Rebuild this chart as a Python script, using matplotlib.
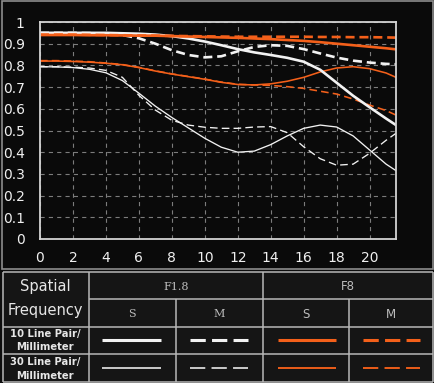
import matplotlib
matplotlib.use("Agg")
import matplotlib.pyplot as plt
from matplotlib.patches import Rectangle

plt.rcParams['lines.scale_dashes'] = False
plt.rcParams['font.family'] = ['DejaVu Sans']

# spatial position (mm) where the MTF values were read
freq_x = [0, 1, 2, 3, 4, 5, 6, 7, 8, 9, 10, 11, 12, 13, 14, 15, 16, 17, 18, 19, 20, 21, 21.6]

# F1.8, 10 lp/mm
f18_s10 = [0.95, 0.95, 0.95, 0.95, 0.95, 0.948, 0.946, 0.942, 0.935, 0.924, 0.91, 0.893,
           0.875, 0.86, 0.848, 0.835, 0.817, 0.78, 0.72, 0.66, 0.607, 0.555, 0.525]
f18_m10 = [0.95, 0.95, 0.95, 0.949, 0.946, 0.94, 0.925, 0.9, 0.87, 0.848, 0.837, 0.842,
           0.865, 0.885, 0.893, 0.89, 0.875, 0.855, 0.836, 0.822, 0.813, 0.807, 0.805]
# F1.8, 30 lp/mm
f18_s30 = [0.794, 0.793, 0.79, 0.782, 0.766, 0.73, 0.672, 0.612, 0.56, 0.512, 0.464, 0.423,
           0.40, 0.405, 0.435, 0.475, 0.51, 0.525, 0.516, 0.475, 0.41, 0.345, 0.315]
f18_m30 = [0.794, 0.794, 0.792, 0.788, 0.777, 0.745, 0.662, 0.594, 0.547, 0.525, 0.515, 0.51,
           0.51, 0.516, 0.518, 0.49, 0.425, 0.37, 0.34, 0.345, 0.395, 0.455, 0.487]
# F8, 10 lp/mm
f8_s10 = [0.94, 0.94, 0.94, 0.939, 0.939, 0.938, 0.937, 0.937, 0.935, 0.933, 0.931, 0.929,
          0.927, 0.924, 0.921, 0.917, 0.913, 0.907, 0.9, 0.893, 0.886, 0.879, 0.874]
f8_m10 = [0.942, 0.942, 0.942, 0.941, 0.94, 0.939, 0.938, 0.937, 0.936, 0.935, 0.934, 0.933,
          0.932, 0.932, 0.932, 0.932, 0.932, 0.931, 0.931, 0.93, 0.93, 0.929, 0.928]
# F8, 30 lp/mm
f8_s30 = [0.82, 0.82, 0.818, 0.815, 0.81, 0.803, 0.79, 0.774, 0.76, 0.748, 0.736, 0.722,
          0.712, 0.71, 0.715, 0.727, 0.745, 0.77, 0.788, 0.794, 0.785, 0.765, 0.745]
f8_m30 = [0.822, 0.822, 0.82, 0.817, 0.811, 0.804, 0.791, 0.775, 0.761, 0.749, 0.737, 0.723,
          0.713, 0.71, 0.708, 0.702, 0.694, 0.681, 0.668, 0.645, 0.617, 0.592, 0.571]

x_ticks = [0, 2, 4, 6, 8, 10, 12, 14, 16, 18, 20]
y_ticks = [0, 0.1, 0.2, 0.3, 0.4, 0.5, 0.6, 0.7, 0.8, 0.9, 1]
y_tick_labels = ['0', '0.1', '0.2', '0.3', '0.4', '0.5', '0.6', '0.7', '0.8', '0.9', '1']

WHITE = '#f2f2f2'
ORANGE = '#f4601a'
THICK, THIN = 1.9, 0.95
DASH_THICK = (0, (6.5, 3.5))
DASH_THIN = (0, (5.5, 3.0))

W, H = 435, 383
fig = plt.figure(figsize=(W / 100, H / 100), dpi=100)
fig.patch.set_facecolor('#0e0e0e')

# background layer in pixel coordinates (panel frame + table)
bg = fig.add_axes([0, 0, 1, 1], zorder=0)
bg.set_xlim(0, W)
bg.set_ylim(H, 0)
bg.axis('off')
bg.add_patch(Rectangle((2, 1), 431, 268, facecolor='#0a0a0a', edgecolor='#8c8c8c', lw=1.2))
bg.add_patch(Rectangle((3, 272), 430, 110, facecolor='#151515', edgecolor='none'))

grid_c = '#b8b8b8'
lw_t = 1.1
for yy, x0 in [(272, 3), (299, 89), (327, 3), (354, 3), (382, 3)]:
    bg.plot([x0, 433], [yy, yy], color=grid_c, lw=lw_t, solid_capstyle='butt')
for xx, y0 in [(3, 272), (89, 272), (263, 272), (433, 272), (176, 299), (349, 299)]:
    bg.plot([xx, xx], [y0, 382], color=grid_c, lw=lw_t, solid_capstyle='butt')

txt_c = '#e6e6e6'
bg.text(45, 286, 'Spatial', color=txt_c, fontsize=10.5, ha='center', va='center')
bg.text(45, 310, 'Frequency', color=txt_c, fontsize=10.5, ha='center', va='center')
bg.text(45, 334, '10 Line Pair/', color=txt_c, fontsize=7.2, ha='center', va='center', fontweight='bold')
bg.text(45, 347, 'Millimeter', color=txt_c, fontsize=7.2, ha='center', va='center', fontweight='bold')
bg.text(45, 362, '30 Line Pair/', color=txt_c, fontsize=7.2, ha='center', va='center', fontweight='bold')
bg.text(45, 376, 'Millimeter', color=txt_c, fontsize=7.2, ha='center', va='center', fontweight='bold')

hdr_c = '#bdbdbd'
bg.text(176, 287, 'F1.8', color=hdr_c, fontsize=8, ha='center', va='center', family='DejaVu Serif')
bg.text(348, 287, 'F8', color=hdr_c, fontsize=8.5, ha='center', va='center')
bg.text(132, 314, 'S', color=hdr_c, fontsize=8, ha='center', va='center', family='DejaVu Serif')
bg.text(219, 314, 'M', color=hdr_c, fontsize=8, ha='center', va='center', family='DejaVu Serif')
bg.text(306, 314, 'S', color=hdr_c, fontsize=8.5, ha='center', va='center')
bg.text(391, 314, 'M', color=hdr_c, fontsize=8.5, ha='center', va='center')

# legend samples
LEG_DASH = (0, (11, 4.5))
samples = [
    (102, 161, 340, WHITE, THICK + 0.3, '-'),
    (190, 248, 340, WHITE, THICK + 0.3, LEG_DASH),
    (278, 336, 340, ORANGE, THICK + 0.3, '-'),
    (363, 420, 340, ORANGE, THICK + 0.3, LEG_DASH),
    (102, 161, 368, WHITE, THIN + 0.2, '-'),
    (190, 248, 368, WHITE, THIN + 0.2, LEG_DASH),
    (278, 336, 368, ORANGE, THIN + 0.4, '-'),
    (363, 420, 368, ORANGE, THIN + 0.4, LEG_DASH),
]
for x0, x1, yy, c, lw, ls in samples:
    bg.plot([x0, x1], [yy, yy], color=c, lw=lw, linestyle=ls, solid_capstyle='butt',
            dash_capstyle='butt')

# chart
ax = fig.add_axes([40 / W, (H - 239) / H, 356 / W, 217 / H], zorder=1)
ax.set_facecolor('#0a0a0a')

ax.plot(freq_x, f18_s30, color=WHITE, lw=THIN, linestyle='-')
ax.plot(freq_x, f18_m30, color=WHITE, lw=THIN, linestyle=DASH_THIN)
ax.plot(freq_x, f8_s30, color=ORANGE, lw=THIN + 0.2, linestyle='-')
ax.plot(freq_x, f8_m30, color=ORANGE, lw=THIN + 0.2, linestyle=DASH_THIN)
ax.plot(freq_x, f18_s10, color=WHITE, lw=THICK, linestyle='-')
ax.plot(freq_x, f18_m10, color=WHITE, lw=THICK, linestyle=DASH_THICK)
ax.plot(freq_x, f8_s10, color=ORANGE, lw=THICK, linestyle='-')
ax.plot(freq_x, f8_m10, color=ORANGE, lw=THICK, linestyle=DASH_THICK)

ax.set_xlim(0, 21.6)
ax.set_ylim(0, 1)
ax.set_xticks(x_ticks)
ax.set_yticks(y_ticks)
ax.set_yticklabels(y_tick_labels)
ax.tick_params(colors='#f0f0f0', labelsize=10, length=0)
ax.tick_params(axis='y', pad=11)
ax.tick_params(axis='x', pad=9)
ax.grid(True, color='#7c7c7c', linestyle=(0, (3, 3)), linewidth=0.8)
ax.set_axisbelow(True)
for sp in ax.spines.values():
    sp.set_color('#d4d4d4')
    sp.set_linewidth(1.3)

fig.savefig('out.png', dpi=100, facecolor=fig.get_facecolor())
